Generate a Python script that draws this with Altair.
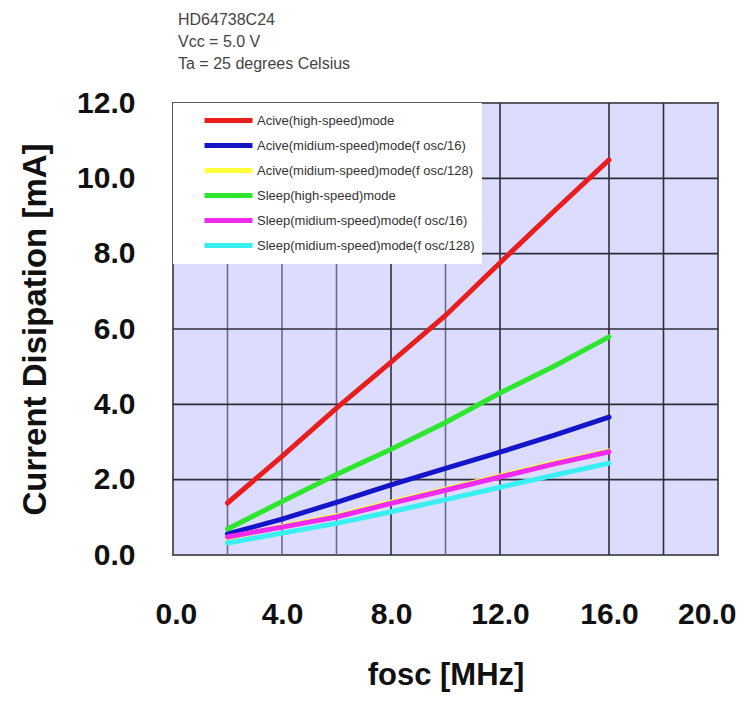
import altair as alt
import pandas as pd

# ---- data ----
fosc = [2, 4, 6, 8, 10, 12, 14, 16]
active_high = [1.38, 2.62, 3.90, 5.12, 6.36, 7.76, 9.14, 10.49]
active_mid16 = [0.56, 0.95, 1.40, 1.86, 2.30, 2.73, 3.18, 3.66]
active_mid128 = [0.45, 0.76, 1.04, 1.40, 1.75, 2.10, 2.45, 2.76]
sleep_high = [0.69, 1.42, 2.14, 2.81, 3.52, 4.30, 5.02, 5.79]
sleep_mid16 = [0.48, 0.74, 1.01, 1.37, 1.72, 2.07, 2.42, 2.74]
sleep_mid128 = [0.32, 0.58, 0.84, 1.15, 1.47, 1.80, 2.12, 2.44]

series_names = [
    "Acive(high-speed)mode",
    "Acive(midium-speed)mode(f osc/16)",
    "Acive(midium-speed)mode(f osc/128)",
    "Sleep(high-speed)mode",
    "Sleep(midium-speed)mode(f osc/16)",
    "Sleep(midium-speed)mode(f osc/128)",
]
series_values = [active_high, active_mid16, active_mid128, sleep_high, sleep_mid16, sleep_mid128]
series_colors = ["#E81E1E", "#1414C8", "#FFFF3C", "#2EE62E", "#F02AF0", "#38F0F0"]

x_ticks = [0, 4, 8, 12, 16, 20]
y_ticks = [0, 2, 4, 6, 8, 10, 12]
x_grid_light = [2, 4, 6, 10]
x_grid_dark = [8, 12, 16, 18]
y_grid = [2, 4, 6, 8, 10]

title_lines = ["HD64738C24", "Vcc = 5.0 V", "Ta = 25 degrees Celsius"]

rows = []
for i, (name, vals) in enumerate(zip(series_names, series_values)):
    for xv, yv in zip(fosc, vals):
        rows.append({"series": name, "order": i, "fosc": xv, "current": yv})
df = pd.DataFrame(rows)

FONT = "Liberation Sans, Arial, Helvetica, sans-serif"

x_scale = alt.Scale(domain=[0, 20], nice=False, zero=True)
y_scale = alt.Scale(domain=[0, 12], nice=False, zero=True)

x_axis = alt.Axis(
    values=x_ticks, format=".1f", title="fosc [MHz]",
    grid=False, ticks=False, tickSize=0, domain=False,
    labelFont=FONT, labelFontSize=30, labelFontWeight="bold", labelColor="#111",
    labelPadding=44, labelFlush=True, labelFlushOffset=18,
    titleFont=FONT, titleFontSize=31, titleFontWeight="bold", titleColor="#111",
    titleY=120, titleBaseline="middle",
)
y_axis = alt.Axis(
    values=y_ticks, format=".1f", title="Current Disipation [mA]",
    grid=False, ticks=False, tickSize=0, domain=False,
    labelFont=FONT, labelFontSize=30, labelFontWeight="bold", labelColor="#111",
    labelPadding=38, labelFlush=False,
    titleFont=FONT, titleFontSize=33, titleFontWeight="bold", titleColor="#111",
    titleX=-138, titleY=226, titleAngle=270, titleBaseline="middle", titleAlign="center",
)

vgl = alt.Chart(pd.DataFrame({"g": x_grid_light})).mark_rule(
    color="#6a6a8c", strokeWidth=1.6
).encode(x=alt.X("g:Q", scale=x_scale, axis=x_axis))

vgd = alt.Chart(pd.DataFrame({"g": x_grid_dark})).mark_rule(
    color="#2e2e3a", strokeWidth=1.6
).encode(x=alt.X("g:Q", scale=x_scale, axis=x_axis))

hg = alt.Chart(pd.DataFrame({"g": y_grid})).mark_rule(
    color="#2e2e3a", strokeWidth=1.6
).encode(y=alt.Y("g:Q", scale=y_scale, axis=y_axis))

lines = alt.Chart(df).mark_line(strokeWidth=5, strokeCap="round").encode(
    x=alt.X("fosc:Q", scale=x_scale, axis=x_axis),
    y=alt.Y("current:Q", scale=y_scale, axis=y_axis),
    color=alt.Color(
        "series:N",
        scale=alt.Scale(domain=series_names, range=series_colors),
        sort=series_names,
        legend=alt.Legend(
            title=None, orient="top-left", offset=0, padding=6,
            fillColor="white", strokeColor="white",
            symbolType="stroke", symbolSize=2304, symbolStrokeWidth=5,
            symbolOffset=23, clipHeight=23, rowPadding=2,
            labelFont=FONT, labelFontSize=13, labelColor="#333", labelOffset=2, labelLimit=400,
        ),
    ),
    order=alt.Order("order:Q"),
    detail="series:N",
)

chart = alt.layer(vgl, vgd, hg, lines).properties(
    width=545,
    height=452,
    autosize=alt.AutoSizeParams(type="none"),
    padding={"left": 165, "top": 95, "right": 19, "bottom": 139},
    title=alt.TitleParams(
        text=title_lines, anchor="start", frame="group", dx=5, offset=16,
        font=FONT, fontSize=16, fontWeight="normal", color="#444", lineHeight=22,
    ),
).configure_view(
    fill="#DCDCFF", stroke="#5a5a66", strokeWidth=2
)

chart.save("out.html", embed_options={"renderer": "svg", "actions": False})
